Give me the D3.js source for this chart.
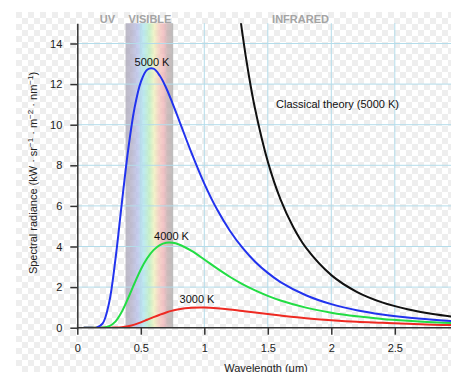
<!DOCTYPE html>
<html>
<head>
<meta charset="utf-8">
<script src="https://cdn.jsdelivr.net/npm/d3@7"></script>
<style>
  body { margin: 0; background: #fff; }
  svg { display: block; font-family: "Liberation Sans", Arial, sans-serif; }
</style>
</head>
<body>
<div class="chart"></div>
<script>
// wavelengths in um, spectral radiance
let wl = [0.05, 0.1, 0.15, 0.2, 0.25, 0.3, 0.35, 0.4, 0.45, 0.5, 0.55, 0.6, 0.65, 0.7, 0.75, 0.8, 0.9, 1.0, 1.1, 1.2, 1.3, 1.4, 1.5, 1.6, 1.8, 2.0, 2.2, 2.4, 2.6, 2.8, 3.0];
let k5000 = [0, 0, 0.003, 0.21, 1.22, 3.35, 6.1, 8.74, 10.8, 12.1, 12.71, 12.76, 12.41, 11.81, 11.05, 10.24, 8.6, 7.1, 5.83, 4.79, 3.94, 3.25, 2.7, 2.25, 1.6, 1.16, 0.86, 0.65, 0.5, 0.39, 0.3];
let k4000 = [0, 0, 0, 0.006, 0.07, 0.3, 0.78, 1.45, 2.18, 2.87, 3.42, 3.82, 4.07, 4.18, 4.18, 4.1, 3.78, 3.36, 2.92, 2.51, 2.15, 1.84, 1.57, 1.34, 0.99, 0.74, 0.56, 0.43, 0.34, 0.27, 0.21];
let k3000 = [0, 0, 0, 0, 0, 0.006, 0.025, 0.072, 0.15, 0.26, 0.39, 0.52, 0.64, 0.75, 0.84, 0.91, 0.98, 0.99, 0.96, 0.9, 0.82, 0.75, 0.67, 0.6, 0.47, 0.37, 0.29, 0.24, 0.19, 0.15, 0.12];
// Rayleigh-Jeans at 5000 K
let wlClassic = [1.25, 1.3, 1.35, 1.4, 1.5, 1.6, 1.7, 1.8, 2.0, 2.2, 2.4, 2.6, 2.8, 3.0];
let classic = [16.95, 14.49, 12.46, 10.77, 8.18, 6.32, 4.96, 3.94, 2.59, 1.77, 1.25, 0.91, 0.67, 0.51];

let xTicks = [0, 0.5, 1, 1.5, 2, 2.5];
let yTicks = [0, 2, 4, 6, 8, 10, 12, 14];
let visible = [0.38, 0.755];

let W = 451, H = 372;

let svg = d3.select('.chart').append('svg')
  .attr('width', W).attr('height', H);

let defs = svg.append('defs');

// transparency checkerboard behind the figure
let pat = defs.append('pattern')
  .attr('id', 'checker').attr('width', 12).attr('height', 12)
  .attr('patternUnits', 'userSpaceOnUse')
  .attr('x', 16).attr('y', 12);
pat.append('rect').attr('width', 12).attr('height', 12).attr('fill', '#ffffff');
pat.append('rect').attr('width', 6).attr('height', 6).attr('fill', '#eeeeee');
pat.append('rect').attr('x', 6).attr('y', 6).attr('width', 6).attr('height', 6).attr('fill', '#eeeeee');

svg.append('rect').attr('x', 16).attr('y', 12)
  .attr('width', W - 16).attr('height', H - 12)
  .attr('fill', 'url(#checker)');

let x = d3.scaleLinear().domain([0, 3]).range([77.3, 458.3]);
let y = d3.scaleLinear().domain([0, 15]).range([327.7, 23.2]);

// rainbow for the visible band
let grad = defs.append('linearGradient').attr('id', 'rainbow')
  .attr('x1', 0).attr('x2', 1).attr('y1', 0).attr('y2', 0);
let stops = [
  [0, '#a8a4b4'], [0.12, '#aeaac4'], [0.25, '#b4bce8'], [0.38, '#a8e4ec'],
  [0.5, '#b8ecbc'], [0.6, '#eef0b8'], [0.7, '#f4c8b8'], [0.8, '#eeb0b4'],
  [0.88, '#c0a8a8'], [1, '#a8a8a8']
];
stops.forEach(function(s){
  grad.append('stop').attr('offset', s[0]).attr('stop-color', s[1]);
});

svg.append('rect')
  .attr('x', x(visible[0])).attr('y', y(15))
  .attr('width', x(visible[1]) - x(visible[0]))
  .attr('height', y(0) - y(15))
  .attr('fill', 'url(#rainbow)')
  .attr('opacity', 0.75);

// gridlines
svg.append('g').attr('class', 'xgrid')
  .selectAll('line').data(xTicks.slice(1)).enter().append('line')
  .attr('x1', d => x(d)).attr('x2', d => x(d))
  .attr('y1', y(15)).attr('y2', y(0))
  .attr('stroke', '#b4dcea').attr('stroke-width', 1);

svg.append('g').attr('class', 'ygrid')
  .selectAll('line').data(yTicks.slice(1)).enter().append('line')
  .attr('x1', x(0)).attr('x2', W)
  .attr('y1', d => y(d)).attr('y2', d => y(d))
  .attr('stroke', '#b4dcea').attr('stroke-width', 1);

// curves, clipped to the plot
defs.append('clipPath').attr('id', 'plot')
  .append('rect').attr('x', x(0)).attr('y', y(15))
  .attr('width', W - x(0)).attr('height', y(0) - y(15));

let line = d3.line()
  .x(d => x(d[0])).y(d => y(d[1]))
  .curve(d3.curveCatmullRom);

let series = [
  { xs: wl, ys: k3000, color: '#ee2a22' },
  { xs: wl, ys: k4000, color: '#22dd44' },
  { xs: wl, ys: k5000, color: '#2233ee' },
  { xs: wlClassic, ys: classic, color: '#111111' }
];

let curves = svg.append('g').attr('clip-path', 'url(#plot)');
series.forEach(function(s){
  curves.append('path')
    .datum(s.xs.map((v, i) => [v, s.ys[i]]))
    .attr('d', line)
    .attr('fill', 'none')
    .attr('stroke', s.color)
    .attr('stroke-width', 2);
});

// axes
let xAxis = svg.append('g')
  .attr('transform', 'translate(0,' + y(0) + ')')
  .call(d3.axisBottom(x).tickValues(xTicks).tickSize(7).tickSizeOuter(0)
    .tickFormat(d => d));
xAxis.select('.domain').attr('d', 'M' + x(0) + ',0H' + W).attr('stroke', '#333').attr('stroke-width', 1.5);
xAxis.selectAll('.tick line').attr('stroke', '#333').attr('stroke-width', 1.5);
xAxis.selectAll('.tick text').attr('dy', 0).attr('y', 24)
  .attr('font-size', 11).attr('fill', '#222');

let yAxis = svg.append('g')
  .attr('transform', 'translate(' + x(0) + ',0)')
  .call(d3.axisLeft(y).tickValues(yTicks).tickSize(7).tickSizeOuter(0));
yAxis.select('.domain').attr('stroke', '#333').attr('stroke-width', 1.5);
yAxis.selectAll('.tick line').attr('stroke', '#333').attr('stroke-width', 1.5);
yAxis.selectAll('.tick text').attr('x', -15)
  .attr('font-size', 11).attr('fill', '#222');
yAxis.selectAll('text').attr('font-family', null);
xAxis.selectAll('text').attr('font-family', null);

// region labels
let regions = [
  { t: 'UV', x: 107.5 },
  { t: 'VISIBLE', x: 150 },
  { t: 'INFRARED', x: 300.5 }
];
svg.selectAll('.region').data(regions).enter().append('text')
  .attr('class', 'region')
  .attr('x', d => d.x).attr('y', 23)
  .attr('text-anchor', 'middle')
  .attr('font-size', 11).attr('font-weight', 'bold')
  .attr('fill', '#a4a4a4')
  .text(d => d.t);

// curve labels
let labels = [
  { t: '5000 K', x: 152, y: 65.5 },
  { t: '4000 K', x: 171.5, y: 239.5 },
  { t: '3000 K', x: 197, y: 303 },
  { t: 'Classical theory (5000 K)', x: 337.5, y: 108 }
];
svg.selectAll('.lab').data(labels).enter().append('text')
  .attr('class', 'lab')
  .attr('x', d => d.x).attr('y', d => d.y)
  .attr('text-anchor', 'middle')
  .attr('font-size', 11).attr('fill', '#111')
  .text(d => d.t);

// axis titles
svg.append('text')
  .attr('transform', 'translate(37,173) rotate(-90)')
  .attr('text-anchor', 'middle')
  .attr('font-size', 11).attr('fill', '#222')
  .html('Spectral radiance (kW · sr<tspan dy="-4" font-size="8">−1</tspan><tspan dy="4"> · m</tspan><tspan dy="-4" font-size="8">−2</tspan><tspan dy="4"> · nm</tspan><tspan dy="-4" font-size="8">−1</tspan><tspan dy="4">)</tspan>');

svg.append('text')
  .attr('x', 266).attr('y', 372)
  .attr('text-anchor', 'middle')
  .attr('font-size', 11).attr('fill', '#222')
  .text('Wavelength (μm)');
</script>
</body>
</html>
